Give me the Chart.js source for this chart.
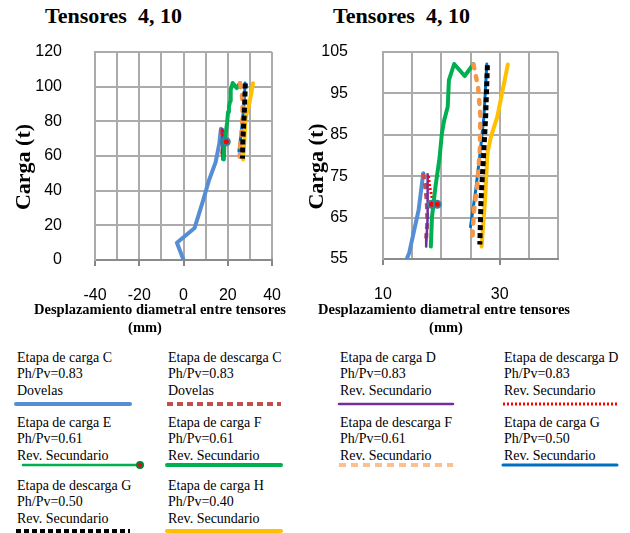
<!DOCTYPE html>
<html>
<head>
<meta charset="utf-8">
<script src="https://cdn.jsdelivr.net/npm/chart.js@4.4.1/dist/chart.umd.min.js"></script>
<style>
  body { margin: 0; background: #fff; width: 630px; height: 533px; position: relative; overflow: hidden; font-family: "Liberation Serif", "Times New Roman", serif; color: #000; }
  canvas { position: absolute; top: 0; }
  .titulo { position: absolute; top: 3px; font-weight: bold; font-size: 22px; line-height: 26px; white-space: pre; }
  .xtitulo { position: absolute; font-weight: bold; font-size: 14.5px; line-height: 17.5px; white-space: nowrap; transform: translateX(-50%); }
  .leg { position: absolute; font-size: 14px; line-height: 16.3px; white-space: nowrap; }
  .muestra { position: absolute; overflow: visible; }
</style>
</head>
<body>
<div class="titulo" style="left:45px">Tensores  4, 10</div>
<div class="titulo" style="left:333px">Tensores  4, 10</div>

<canvas id="grafIzq" width="301" height="306" style="left:0"></canvas>
<canvas id="grafDer" width="330" height="306" style="left:300px"></canvas>

<div class="xtitulo" style="left:160px;top:301px">Desplazamiento diametral entre tensores</div>
<div class="xtitulo" style="left:145px;top:319px">(mm)</div>
<div class="xtitulo" style="left:444px;top:301px">Desplazamiento diametral entre tensores</div>
<div class="xtitulo" style="left:446px;top:319px">(mm)</div>

<div id="leyenda"></div>

<script>
// valores: x = desplazamiento (mm), y = carga (t)
const cargaC_x = [0, -3, 5, 8.5, 11.5, 14.5, 16.1, 16.9];
const cargaC_y = [0, 10, 18.5, 33, 46, 56.5, 66.8, 75.7];
const descargaC_x = [16.9, 17.2, 17.5, 17.6, 17.4];
const descargaC_y = [75.7, 73, 69, 64, 60];
const cargaD_x = [17.65, 17.7, 17.6, 17.5, 17.4];
const cargaD_y = [75.5, 70, 65, 61, 58];
const descargaD_x = [17.8, 18.0, 18.3, 18.7];
const descargaD_y = [75, 72.5, 70.5, 68];
const cargaE_x = [18.3, 19.3];
const cargaE_y = [68.2, 68.2];
const cargaF_x = [18.2, 18.4, 19.0, 19.7, 20.1, 20.5, 21.1, 21.3, 22.2, 24.0, 25.5];
const cargaF_y = [58, 65.2, 72.5, 79.5, 85.4, 88.6, 91.8, 98.2, 102.1, 99.2, 102.1];
const descargaF_x = [25.5, 26.3, 26.7, 26.6, 26.2, 25.6, 25.3];
const descargaF_y = [102, 96.6, 89.4, 81.3, 73.3, 66.8, 59.6];
const cargaG_x = [25.0, 25.9, 26.7, 27.3, 27.8];
const cargaG_y = [62.8, 71.7, 81.3, 89.4, 102.1];
const descargaG_x = [27.9, 27.6, 27.2, 26.8, 26.6];
const descargaG_y = [101.8, 89.4, 78.9, 69.3, 58.5];
const cargaH_x = [26.9, 27.5, 27.9, 28.5, 29.6, 31.4];
const cargaH_y = [58, 69.3, 80.5, 84.5, 89.4, 102];

const etapas = ["Etapa de carga C", "Etapa de descarga C", "Etapa de carga D", "Etapa de descarga D",
  "Etapa de carga E", "Etapa de carga F", "Etapa de descarga F", "Etapa de carga G",
  "Etapa de descarga G", "Etapa de carga H"];
const relaciones = ["Ph/Pv=0.83", "Ph/Pv=0.83", "Ph/Pv=0.83", "Ph/Pv=0.83", "Ph/Pv=0.61",
  "Ph/Pv=0.61", "Ph/Pv=0.61", "Ph/Pv=0.50", "Ph/Pv=0.50", "Ph/Pv=0.40"];
const revestimientos = ["Dovelas", "Dovelas", "Rev. Secundario", "Rev. Secundario", "Rev. Secundario",
  "Rev. Secundario", "Rev. Secundario", "Rev. Secundario", "Rev. Secundario", "Rev. Secundario"];

// orden: valor menor se dibuja encima
const series = [
  { xs: cargaC_x, ys: cargaC_y, color: "#558ED5", ancho: 4, dash: [], orden: 10 },
  { xs: descargaC_x, ys: descargaC_y, color: "#C0504D", ancho: 4, dash: [6, 4], orden: 9 },
  { xs: cargaD_x, ys: cargaD_y, color: "#7030A0", ancho: 2.5, dash: [], orden: 8 },
  { xs: descargaD_x, ys: descargaD_y, color: "#FF0000", ancho: 3, dash: [2, 2], orden: 7 },
  { xs: cargaE_x, ys: cargaE_y, color: "#00B050", ancho: 2, dash: [], marca: true, orden: 0 },
  { xs: cargaF_x, ys: cargaF_y, color: "#00B050", ancho: 4, dash: [], orden: 6 },
  { xs: descargaF_x, ys: descargaF_y, color: "#F79646", ancho: 4.5, dash: [4, 8], redondo: true,
    leyenda: "#FAC090", dashLeyenda: [7, 5], orden: 2 },
  { xs: cargaG_x, ys: cargaG_y, color: "#0070C0", ancho: 3, dash: [], orden: 4 },
  { xs: descargaG_x, ys: descargaG_y, color: "#000000", ancho: 5, dash: [5, 3], orden: 1 },
  { xs: cargaH_x, ys: cargaH_y, color: "#FFC000", ancho: 4, dash: [], orden: 3 }
];

function datasets() {
  return series.map((s, i) => ({
    label: etapas[i],
    data: s.xs.map((x, k) => ({ x: x, y: s.ys[k] })),
    borderColor: s.color,
    backgroundColor: s.color,
    borderWidth: s.ancho,
    borderDash: s.dash,
    borderCapStyle: (s.dash.length && !s.redondo) ? "butt" : "round",
    borderJoinStyle: "round",
    showLine: true,
    tension: 0,
    pointRadius: s.marca ? 3.5 : 0,
    pointBackgroundColor: "#FF0000",
    pointBorderColor: "#31859C",
    pointBorderWidth: 2,
    order: s.orden
  }));
}

const fuenteTicks = { family: "Liberation Sans", size: 16 };
const gris = "#ABABAB";

function grafico(id, x, y, opc) {
  return new Chart(document.getElementById(id), {
    type: "scatter",
    data: { datasets: datasets() },
    options: {
      responsive: false,
      animation: false,
      layout: { padding: { top: 52, right: opc.derecha, left: 0, bottom: 0 } },
      plugins: { legend: { display: false }, tooltip: { enabled: false } },
      scales: {
        x: {
          min: x.min, max: x.max,
          // alto fijo del eje x para que el area de trazado quede donde en la figura
          afterFit: s => { s.height = opc.altoX; },
          grid: {
            color: gris, lineWidth: 2, tickLength: 6,
            tickColor: c => c.tick && (c.tick.value - x.min) % 20 === 0 ? "#868686" : "rgba(0,0,0,0)",
            tickWidth: 2
          },
          border: { color: "#8C8C8C", width: 2 },
          ticks: {
            stepSize: x.paso, autoSkip: false, maxRotation: 0, padding: 20,
            color: "#000", font: fuenteTicks,
            callback: v => (v - x.min) % 20 === 0 ? v : ""
          }
        },
        y: {
          min: y.min, max: y.max,
          afterFit: s => { s.width = opc.anchoY; },
          grid: { color: gris, lineWidth: 2, drawTicks: false },
          border: { color: gris, width: 2 },
          ticks: { stepSize: y.paso, padding: opc.padY, color: "#000", font: fuenteTicks },
          title: {
            display: true, text: "Carga (t)    ", color: "#000",
            font: { family: "Liberation Serif", size: 22, weight: "bold" },
            padding: { top: opc.padTitulo, bottom: 0 }
          }
        }
      }
    }
  });
}

grafico("grafIzq", { min: -40, max: 40, paso: 10 }, { min: 0, max: 120, paso: 20 },
  { derecha: 27, altoX: 46, anchoY: 95, padY: 33, padTitulo: 11 });
grafico("grafDer", { min: 10, max: 40, paso: 5 }, { min: 55, max: 105, paso: 10 },
  { derecha: 72, altoX: 47, anchoY: 83, padY: 35, padTitulo: 4 });

// leyenda en 4 columnas
const colX = [17, 168, 340, 504];
const filaY = [350, 415, 478];
const lineaY = [404, 465, 531];
const leyenda = document.getElementById("leyenda");
series.forEach((s, i) => {
  const col = i % 4, fila = Math.floor(i / 4);
  const t = document.createElement("div");
  t.className = "leg";
  t.style.left = colX[col] + "px";
  t.style.top = filaY[fila] + "px";
  t.innerHTML = etapas[i] + "<br>" + relaciones[i] + "<br>" + revestimientos[i];
  leyenda.appendChild(t);

  const x0 = colX[col] + (s.marca ? 6 : -1);
  const w = s.marca ? 117 : 114;
  const dash = s.dashLeyenda || s.dash;
  const svg = document.createElementNS("http://www.w3.org/2000/svg", "svg");
  svg.setAttribute("class", "muestra");
  svg.setAttribute("width", w + 8);
  svg.setAttribute("height", 12);
  svg.style.left = (x0 - 4) + "px";
  svg.style.top = (lineaY[fila] - 6) + "px";
  const ln = document.createElementNS(svg.namespaceURI, "line");
  ln.setAttribute("x1", 4); ln.setAttribute("x2", w + 4);
  ln.setAttribute("y1", 6); ln.setAttribute("y2", 6);
  ln.setAttribute("stroke", s.leyenda || s.color);
  ln.setAttribute("stroke-width", s.marca ? 2.5 : Math.min(s.ancho, 4));
  if (dash.length) ln.setAttribute("stroke-dasharray", dash.join(" "));
  else ln.setAttribute("stroke-linecap", "round");
  svg.appendChild(ln);
  if (s.marca) {
    const c = document.createElementNS(svg.namespaceURI, "circle");
    c.setAttribute("cx", w + 4); c.setAttribute("cy", 6); c.setAttribute("r", 3);
    c.setAttribute("fill", "#FF0000"); c.setAttribute("stroke", "#00853E"); c.setAttribute("stroke-width", 2);
    svg.appendChild(c);
  }
  leyenda.appendChild(svg);
});
</script>
</body>
</html>
